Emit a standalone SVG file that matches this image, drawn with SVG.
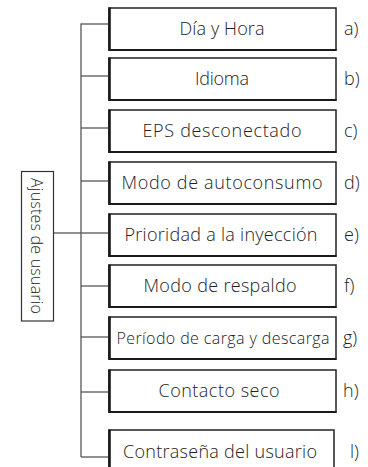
<svg xmlns="http://www.w3.org/2000/svg" width="368" height="467" viewBox="0 0 368 467">
<style>
.box{fill:#fff;stroke:#222;stroke-width:1.5}
.edge{stroke:#1a1a1a;stroke-width:2.6;fill:none}
.bot{stroke:#1a1a1a;stroke-width:2.2;fill:none}
.t{font-family:"Open Sans","Liberation Sans",sans-serif;font-weight:300;font-size:18px;fill:#222;text-anchor:middle}
.lab{font-family:"Open Sans","Liberation Sans",sans-serif;font-weight:300;font-size:18px;fill:#222}
.conn line{stroke:#555;stroke-width:1.3}
.root{fill:#fff;stroke:#333;stroke-width:1.2}
</style>
<g class="conn" id="connectors">
<line x1="81" y1="23.5" x2="81" y2="457"/>
<line x1="54" y1="233" x2="81" y2="233"/>
<line x1="81" y1="24" x2="108" y2="24"/>
<line x1="81" y1="76" x2="108" y2="76"/>
<line x1="81" y1="128" x2="108" y2="128"/>
<line x1="81" y1="181" x2="108" y2="181"/>
<line x1="81" y1="233" x2="108" y2="233"/>
<line x1="81" y1="286" x2="108" y2="286"/>
<line x1="81" y1="337" x2="108" y2="337"/>
<line x1="81" y1="392" x2="108" y2="392"/>
<line x1="81" y1="457" x2="108" y2="457"/>
</g>
<g id="root">
<rect class="root" x="21.5" y="171.5" width="32" height="149.5"/>
<text class="lab" text-anchor="middle" transform="translate(31 246) rotate(90)" style="font-size:16px" textLength="136">Ajustes de usuario</text>
</g>
<g id="n1"><rect class="box" x="109" y="8" width="227" height="42"/><line class="edge" x1="109.5" y1="7.5" x2="109.5" y2="51"/><line class="bot" x1="109" y1="50" x2="336.5" y2="50"/><text class="t" x="222" y="35" textLength="85">Día y Hora</text><text class="lab" x="344" y="35">a)</text></g>
<g id="n2"><rect class="box" x="109" y="58" width="227" height="42"/><line class="edge" x1="109.5" y1="57.5" x2="109.5" y2="101"/><line class="bot" x1="109" y1="100" x2="336.5" y2="100"/><text class="t" x="222" y="85" textLength="54">Idioma</text><text class="lab" x="344" y="85">b)</text></g>
<g id="n3"><rect class="box" x="109" y="110" width="227" height="42"/><line class="edge" x1="109.5" y1="109.5" x2="109.5" y2="153"/><line class="bot" x1="109" y1="152" x2="336.5" y2="152"/><text class="t" x="222" y="137" textLength="159">EPS desconectado</text><text class="lab" x="344" y="137">c)</text></g>
<g id="n4"><rect class="box" x="109" y="162" width="227" height="42"/><line class="edge" x1="109.5" y1="161.5" x2="109.5" y2="205"/><line class="bot" x1="109" y1="204" x2="336.5" y2="204"/><text class="t" x="222" y="189" textLength="201">Modo de autoconsumo</text><text class="lab" x="344" y="189">d)</text></g>
<g id="n5"><rect class="box" x="109" y="214" width="227" height="42"/><line class="edge" x1="109.5" y1="213.5" x2="109.5" y2="257"/><line class="bot" x1="109" y1="256" x2="336.5" y2="256"/><text class="t" x="221" y="241" textLength="193">Prioridad a la inyección</text><text class="lab" x="344" y="241">e)</text></g>
<g id="n6"><rect class="box" x="109" y="265" width="227" height="42"/><line class="edge" x1="109.5" y1="264.5" x2="109.5" y2="308"/><line class="bot" x1="109" y1="307" x2="336.5" y2="307"/><text class="t" x="220" y="292" textLength="153">Modo de respaldo</text><text class="lab" x="344" y="292">f)</text></g>
<g id="n7"><rect class="box" x="109" y="317" width="227" height="42"/><line class="edge" x1="109.5" y1="316.5" x2="109.5" y2="360"/><line class="bot" x1="109" y1="359" x2="336.5" y2="359"/><text class="t" x="223" y="344" style="font-size:16px" textLength="213">Período de carga y descarga</text><text class="lab" x="343" y="344">g)</text></g>
<g id="n8"><rect class="box" x="109" y="370" width="227" height="42"/><line class="edge" x1="109.5" y1="369.5" x2="109.5" y2="413"/><line class="bot" x1="109" y1="412" x2="336.5" y2="412"/><text class="t" x="219" y="397" textLength="121">Contacto seco</text><text class="lab" x="343" y="397">h)</text></g>
<g id="n9"><rect class="box" x="109" y="430" width="225" height="42"/><line class="edge" x1="109.5" y1="429.5" x2="109.5" y2="472"/><text class="t" x="220" y="458" textLength="194">Contraseña del usuario</text><text class="lab" x="350" y="458">l)</text></g>
</svg>
